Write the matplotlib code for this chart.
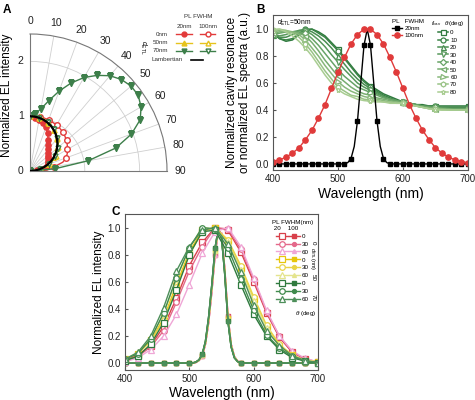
import numpy as np
import matplotlib.pyplot as plt
from matplotlib.lines import Line2D

plt.rcParams['font.family'] = ['Liberation Sans', 'DejaVu Sans']
plt.rcParams['mathtext.fontset'] = 'custom'
plt.rcParams['mathtext.rm'] = 'Liberation Sans'
plt.rcParams['mathtext.it'] = 'Liberation Sans:italic'
plt.rcParams['axes.edgecolor'] = '#555555'
plt.rcParams['xtick.color'] = '#555555'
plt.rcParams['ytick.color'] = '#555555'
plt.rcParams['xtick.labelcolor'] = '#222222'
plt.rcParams['ytick.labelcolor'] = '#222222'

# ---------------- panel A data (angle in deg, normalized EL intensity)
ang = [0, 5, 10, 15, 20, 25, 30, 35, 40, 45, 50, 55, 60, 65, 70, 75, 80, 85, 90]
a_red20 = [1.0, 0.98, 0.95, 0.9, 0.85, 0.76, 0.66, 0.58, 0.52, 0.47, 0.43, 0.4, 0.38, 0.36, 0.34, 0.3, 0.22, 0.12, 0.0]
a_red100 = [1.0, 1.0, 1.0, 1.0, 0.99, 0.98, 0.97, 0.95, 0.93, 0.9, 0.87, 0.83, 0.79, 0.75, 0.7, 0.62, 0.45, 0.25, 0.0]
a_yel20 = [1.02, 1.02, 1.0, 0.98, 0.95, 0.91, 0.87, 0.82, 0.77, 0.71, 0.65, 0.58, 0.51, 0.43, 0.35, 0.26, 0.17, 0.08, 0.0]
a_yel100 = [1.0, 1.0, 0.99, 0.97, 0.94, 0.91, 0.87, 0.83, 0.78, 0.73, 0.67, 0.61, 0.54, 0.47, 0.39, 0.3, 0.2, 0.1, 0.0]
a_grn20 = [1.0, 1.05, 1.15, 1.33, 1.55, 1.77, 1.97, 2.13, 2.27, 2.36, 2.41, 2.41, 2.34, 2.22, 1.97, 1.62, 1.08, 0.45, 0.0]
a_grn100 = [1.0, 1.0, 0.99, 0.97, 0.95, 0.92, 0.88, 0.83, 0.78, 0.72, 0.66, 0.6, 0.53, 0.45, 0.37, 0.28, 0.18, 0.09, 0.0]
a_lamb = [1.0, 0.996, 0.985, 0.966, 0.94, 0.906, 0.866, 0.819, 0.766, 0.707, 0.643, 0.574, 0.5, 0.423, 0.342, 0.259, 0.174, 0.087, 0.0]
ang_ticks = [0, 10, 20, 30, 40, 50, 60, 70, 80, 90]

# ---------------- panel B data
wl10 = list(range(400, 701, 10))
pl100 = [0.017, 0.03, 0.05, 0.08, 0.12, 0.18, 0.25, 0.34, 0.44, 0.56, 0.68, 0.79, 0.89, 0.96, 1.0, 1.0,
         0.96, 0.89, 0.79, 0.68, 0.56, 0.44, 0.34, 0.25, 0.18, 0.12, 0.08, 0.05, 0.03, 0.017, 0.01]
wl_pl20 = [400, 410, 420, 430, 440, 450, 460, 470, 480, 490, 500, 505, 510, 515, 520, 525, 530, 535, 540, 545,
           550, 555, 560, 565, 570, 575, 580, 585, 590, 600, 610, 620, 630, 640, 650, 660, 670, 680, 690, 700]
pl20 = [0, 0, 0, 0, 0, 0, 0, 0, 0, 0, 0, 0.0, 0.001, 0.01, 0.04, 0.13, 0.32, 0.6, 0.88, 1.0,
        0.88, 0.6, 0.32, 0.13, 0.04, 0.01, 0.0, 0.0, 0, 0, 0, 0, 0, 0, 0, 0, 0, 0, 0, 0]
cav_theta = ['0', '10', '20', '30', '40', '50', '60', '70', '80']
cav = [
    [0.97, 0.93, 0.91, 0.92, 0.96, 0.99, 1.0, 0.98, 0.95, 0.9, 0.85, 0.79, 0.73, 0.67, 0.62, 0.58, 0.55, 0.52, 0.5, 0.48, 0.46, 0.45, 0.44, 0.44, 0.43, 0.43, 0.43, 0.43, 0.43, 0.43, 0.43],
    [0.97, 0.93, 0.92, 0.93, 0.97, 1.0, 1.0, 0.97, 0.94, 0.89, 0.84, 0.78, 0.72, 0.66, 0.61, 0.57, 0.54, 0.51, 0.49, 0.47, 0.46, 0.45, 0.44, 0.43, 0.43, 0.43, 0.42, 0.42, 0.42, 0.42, 0.42],
    [0.96, 0.94, 0.94, 0.96, 0.99, 1.0, 0.98, 0.95, 0.91, 0.86, 0.8, 0.74, 0.68, 0.63, 0.59, 0.56, 0.53, 0.5, 0.48, 0.47, 0.46, 0.45, 0.44, 0.43, 0.43, 0.42, 0.42, 0.42, 0.42, 0.42, 0.42],
    [0.96, 0.95, 0.96, 0.98, 0.99, 0.99, 0.96, 0.92, 0.87, 0.81, 0.755, 0.7, 0.65, 0.6, 0.57, 0.545, 0.52, 0.5, 0.48, 0.47, 0.46, 0.45, 0.44, 0.43, 0.42, 0.42, 0.42, 0.41, 0.41, 0.41, 0.41],
    [0.96, 0.97, 0.98, 0.98, 0.98, 0.97, 0.93, 0.88, 0.82, 0.76, 0.7, 0.65, 0.61, 0.57, 0.55, 0.53, 0.51, 0.49, 0.48, 0.47, 0.46, 0.45, 0.44, 0.43, 0.42, 0.42, 0.41, 0.41, 0.41, 0.41, 0.41],
    [0.97, 0.98, 0.98, 0.98, 0.97, 0.95, 0.9, 0.84, 0.77, 0.71, 0.65, 0.61, 0.57, 0.54, 0.52, 0.51, 0.49, 0.48, 0.47, 0.46, 0.45, 0.44, 0.43, 0.42, 0.42, 0.41, 0.41, 0.41, 0.4, 0.4, 0.4],
    [0.98, 0.99, 0.99, 0.98, 0.96, 0.92, 0.86, 0.8, 0.73, 0.67, 0.61, 0.57, 0.54, 0.52, 0.5, 0.49, 0.48, 0.47, 0.46, 0.46, 0.45, 0.44, 0.43, 0.42, 0.41, 0.41, 0.41, 0.4, 0.4, 0.4, 0.4],
    [0.99, 1.0, 0.99, 0.97, 0.94, 0.89, 0.83, 0.76, 0.69, 0.63, 0.57, 0.54, 0.51, 0.5, 0.48, 0.475, 0.47, 0.46, 0.46, 0.45, 0.45, 0.44, 0.43, 0.42, 0.41, 0.41, 0.4, 0.4, 0.4, 0.4, 0.4],
    [1.0, 1.0, 0.98, 0.95, 0.91, 0.86, 0.8, 0.73, 0.66, 0.6, 0.55, 0.52, 0.5, 0.48, 0.47, 0.465, 0.46, 0.46, 0.45, 0.45, 0.45, 0.44, 0.43, 0.42, 0.41, 0.4, 0.4, 0.4, 0.4, 0.4, 0.4],
]

# ---------------- panel C data
wl20 = list(range(400, 701, 20))
c_theta = ['0', '30', '60']
el_broad = {
    'r0': [0.02, 0.06, 0.13, 0.27, 0.48, 0.72, 0.89, 1.0, 0.98, 0.82, 0.6, 0.37, 0.19, 0.08, 0.03, 0.01],
    'r30': [0.02, 0.05, 0.12, 0.24, 0.45, 0.68, 0.86, 1.0, 0.99, 0.84, 0.62, 0.38, 0.2, 0.085, 0.03, 0.01],
    'r60': [0.01, 0.04, 0.1, 0.2, 0.36, 0.58, 0.81, 0.97, 1.0, 0.86, 0.63, 0.39, 0.2, 0.09, 0.035, 0.01],
    'y0': [0.03, 0.07, 0.17, 0.33, 0.58, 0.82, 0.98, 1.0, 0.9, 0.7, 0.47, 0.27, 0.13, 0.06, 0.02, 0.01],
    'y30': [0.03, 0.07, 0.16, 0.32, 0.56, 0.8, 0.97, 1.0, 0.91, 0.72, 0.49, 0.28, 0.14, 0.06, 0.02, 0.01],
    'y60': [0.03, 0.08, 0.18, 0.36, 0.62, 0.85, 1.0, 0.99, 0.89, 0.69, 0.46, 0.26, 0.12, 0.05, 0.02, 0.01],
    'g0': [0.02, 0.05, 0.14, 0.3, 0.54, 0.8, 0.97, 0.98, 0.81, 0.58, 0.36, 0.2, 0.1, 0.04, 0.015, 0.005],
    'g30': [0.03, 0.07, 0.18, 0.37, 0.63, 0.85, 1.0, 0.99, 0.85, 0.62, 0.39, 0.21, 0.11, 0.05, 0.015, 0.005],
    'g60': [0.03, 0.08, 0.2, 0.41, 0.68, 0.86, 0.98, 1.0, 0.88, 0.67, 0.43, 0.24, 0.13, 0.055, 0.02, 0.005],
}
wl_n = [400, 420, 440, 460, 480, 500, 505, 510, 515, 520, 525, 530, 535, 540, 545, 550, 555, 560, 565,
        570, 575, 580, 585, 590, 600, 620, 640, 660, 680, 700]
el_narrow = {
    'r': [0, 0, 0, 0, 0, 0, 0.001, 0.005, 0.02, 0.05, 0.14, 0.3, 0.53, 0.8, 0.97, 0.96, 0.7, 0.35, 0.14, 0.05, 0.015, 0.004, 0, 0, 0, 0, 0, 0, 0, 0],
    'y': [0, 0, 0, 0, 0, 0, 0.002, 0.007, 0.022, 0.06, 0.15, 0.32, 0.56, 0.83, 0.98, 0.94, 0.68, 0.33, 0.13, 0.045, 0.013, 0.003, 0, 0, 0, 0, 0, 0, 0, 0],
    'g': [0, 0, 0, 0, 0, 0, 0.002, 0.008, 0.025, 0.065, 0.16, 0.34, 0.58, 0.85, 0.99, 0.93, 0.66, 0.31, 0.12, 0.04, 0.012, 0.003, 0, 0, 0, 0, 0, 0, 0, 0],
}

fig = plt.figure(figsize=(4.75, 4.0), dpi=100)


def fx(px):
    return px / 475


def fy(py):
    return 1 - py / 400


# ================= A
axA = fig.add_axes([fx(30), fy(171), 137 / 475, 137 / 400], projection='polar')
axA.set_theta_zero_location('N')
axA.set_theta_direction(-1)
axA.set_thetamin(0)
axA.set_thetamax(90)
axA.set_rlim(0, 2.5)
axA.set_rticks([0, 1, 2])
axA.set_thetagrids(ang_ticks, labels=[str(a) for a in ang_ticks], fontsize=7.5)
axA.tick_params(axis='x', pad=-1)
axA.tick_params(axis='y', labelsize=7.5, pad=1)
axA.grid(color='#cfcfcf', lw=0.6)
for s in axA.spines.values():
    s.set_color('#777777')
    s.set_linewidth(0.8)

th = np.deg2rad(ang)
red, yel, grn = '#e23a3a', '#e6c31c', '#3d7f4a'
axA.plot(th, a_lamb, color='black', lw=1.6, zorder=5)
axA.plot(th, a_red20, color=red, lw=1, marker='o', ms=3.8, mfc=red, mec=red)
axA.plot(th, a_red100, color=red, lw=1, marker='o', ms=4, mfc='white', mec=red, markevery=2)
axA.plot(th, a_yel20, color=yel, lw=1, marker='^', ms=3.5, mfc=yel, mec=yel, markevery=2)
axA.plot(th, a_yel100, color=yel, lw=1, marker='^', ms=3.5, mfc='white', mec=yel, markevery=2)
axA.plot(th, a_grn20, color=grn, lw=1, marker='v', ms=4.5, mfc=grn, mec=grn)
axA.plot(th, a_grn100, color=grn, lw=1, marker='v', ms=3.5, mfc='white', mec=grn, markevery=2)

fig.text(fx(7), fy(95), 'Normalized EL intensity', rotation=90, fontsize=8.5, ha='center', va='center')

# legend of A drawn in figure coordinates
lf = 4.5
fig.text(fx(198), fy(17), 'PL FWHM', fontsize=lf, ha='center', va='center', color='#333333')
fig.text(fx(184), fy(26), '20nm', fontsize=lf, ha='center', va='center', color='#333333')
fig.text(fx(208), fy(26), '100nm', fontsize=lf, ha='center', va='center', color='#333333')
fig.text(fx(143), fy(47), r'$d_{\rm ETL}$', fontsize=lf + 0.5, rotation=-90, ha='center', va='center')
rows = [('0nm', red, 'o', 'o'), ('50nm', yel, '^', '^'), ('70nm', grn, 'v', 'v')]
for i, (lab, c, m1, m2) in enumerate(rows):
    yy = fy(34 + 8.5 * i)
    fig.text(fx(168), yy, lab, fontsize=lf, ha='right', va='center', color='#333333')
    fig.add_artist(Line2D([fx(176), fx(192)], [yy, yy], color=c, lw=1, transform=fig.transFigure))
    fig.add_artist(Line2D([fx(184)], [yy], color=c, marker=m1, ms=3.5, mfc=c, mec=c,
                          transform=fig.transFigure))
    fig.add_artist(Line2D([fx(200), fx(215)], [yy, yy], color=c, lw=1, transform=fig.transFigure))
    fig.add_artist(Line2D([fx(207.5)], [yy], color=c, marker=m2, ms=3.5, mfc='white', mec=c,
                          transform=fig.transFigure))
yy = fy(59.5)
fig.text(fx(152), yy, 'Lambertian', fontsize=lf, ha='left', va='center', color='#333333')
fig.add_artist(Line2D([fx(191), fx(203)], [yy, yy], color='black', lw=1.2, transform=fig.transFigure))

# ================= B
axB = fig.add_axes([fx(273), fy(170), 195 / 475, 155 / 400])
greens = ['#2f7a3e', '#3b8447', '#498e51', '#57985b', '#67a366', '#77ad70', '#88b87b', '#99c386', '#a9cd92']
cav_mk = ['s', 'o', '^', 'v', 'D', '<', '>', 'h', '*']
cav_lines = []
for k in range(len(cav)):
    ln, = axB.plot(wl10, cav[k], color=greens[k], lw=1.1, marker=cav_mk[k], ms=3.6 if cav_mk[k] != 'D' else 3.2,
                   mfc='white', mec=greens[k], mew=0.9, markevery=5)
    cav_lines.append(ln)
mk20 = [i for i, w in enumerate(wl_pl20) if w % 10 == 0]
b1, = axB.plot(wl_pl20, pl20, color='black', lw=1, marker='s', ms=3.2, markevery=mk20)
b2, = axB.plot(wl10, pl100, color='#e03a3a', lw=1, marker='o', ms=3.8)
axB.set_xlim(400, 700)
axB.set_ylim(-0.045, 1.105)
axB.set_xticks([400, 500, 600, 700])
axB.set_yticks([0, 0.2, 0.4, 0.6, 0.8, 1.0])
axB.tick_params(direction='in', length=2.5, labelsize=7, pad=3)
axB.set_xlabel('Wavelength (nm)', fontsize=10, labelpad=2)
axB.set_ylabel('Normalized cavity resonance\nor normalized EL spectra (a.u.)', fontsize=8.5, labelpad=3,
               linespacing=1.15)
axB.text(0.02, 0.95, r'$d_{\rm ETL}$=50nm', transform=axB.transAxes, fontsize=lf + 0.3, va='center')
legB1 = axB.legend([b1, b2], ['20nm', '100nm'], title='PL   FWHM', loc='upper left',
                   bbox_to_anchor=(0.61, 0.975), frameon=False, fontsize=lf, title_fontsize=lf,
                   handlelength=1.6, handletextpad=0.4, labelspacing=0.25, borderpad=0, borderaxespad=0)
legB1._legend_box.align = 'right'
axB.add_artist(legB1)
axB.legend(cav_lines, cav_theta, title=r'$f_{\rm cav}$   $\theta$(deg)', loc='upper left',
           bbox_to_anchor=(0.81, 0.975), frameon=False, fontsize=lf, title_fontsize=lf,
           handlelength=1.6, handletextpad=0.3, labelspacing=0.33, borderpad=0, borderaxespad=0)

# ================= C
axC = fig.add_axes([fx(125), fy(370), 193 / 475, 156 / 400])
ccols = {'r0': '#d8404a', 'r30': '#e4688a', 'r60': '#efa6d6',
         'y0': '#e8c60c', 'y30': '#e9d447', 'y60': '#e4e48e',
         'g0': '#2f7a3e', 'g30': '#3f8a4c', 'g60': '#4d8f5a'}
cmk = {'0': 's', '30': 'o', '60': '^'}
open_h, fill_h, labs = [], [], []
mkn = [i for i, w in enumerate(wl_n) if w % 20 == 0]
for grp in ['r', 'y', 'g']:
    for t in c_theta:
        key = grp + t
        c = ccols[key]
        axC.plot(wl_n, el_narrow[grp], color=c, lw=1.1, marker=cmk[t], ms=2.8, mfc=c, mec=c,
                 markevery=mkn)
for grp in ['r', 'y', 'g']:
    for t in c_theta:
        key = grp + t
        c = ccols[key]
        ln, = axC.plot(wl20, el_broad[key], color=c, lw=1, marker=cmk[t], ms=4, mfc='white', mec=c, mew=0.9)
        open_h.append(ln)
        fill_h.append(Line2D([], [], color=c, lw=1, marker=cmk[t], ms=2.8, mfc=c, mec=c))
        labs.append(t)
axC.set_xlim(400, 700)
axC.set_ylim(-0.05, 1.1)
axC.set_xticks([400, 500, 600, 700])
axC.set_yticks([0, 0.2, 0.4, 0.6, 0.8, 1.0])
axC.tick_params(direction='in', length=2.5, labelsize=7, pad=3)
axC.set_xlabel('Wavelength (nm)', fontsize=10, labelpad=1)
axC.set_ylabel('Normalized EL intensity', fontsize=8.5, labelpad=2)
axC.legend(open_h + fill_h, [''] * 9 + labs, ncol=2, title='PL FWHM(nm)\n 20    100', loc='upper left',
           bbox_to_anchor=(0.76, 0.96), frameon=False, fontsize=lf, title_fontsize=lf,
           handlelength=1.8, handletextpad=0.2, columnspacing=0.0, labelspacing=0.4,
           borderpad=0, borderaxespad=0)
fig.text(fx(313), fy(243), '0', rotation=-90, fontsize=lf, ha='center', va='center')
fig.text(fx(313), fy(259), r'$d_{\rm ETL}$(nm)', rotation=-90, fontsize=4, ha='center', va='center')
fig.text(fx(313), fy(277), '50', rotation=-90, fontsize=lf, ha='center', va='center')
fig.text(fx(313), fy(297), '70', rotation=-90, fontsize=lf, ha='center', va='center')
fig.text(fx(316), fy(313), r'$\theta$ (deg)', fontsize=lf, ha='right', va='center')

# panel letters
fig.text(fx(3), fy(10), 'A', fontsize=8.5, fontweight='bold', va='center')
fig.text(fx(256), fy(10), 'B', fontsize=8.5, fontweight='bold', va='center')
fig.text(fx(112), fy(212), 'C', fontsize=8.5, fontweight='bold', va='center')

fig.savefig('out.png', dpi=100)
